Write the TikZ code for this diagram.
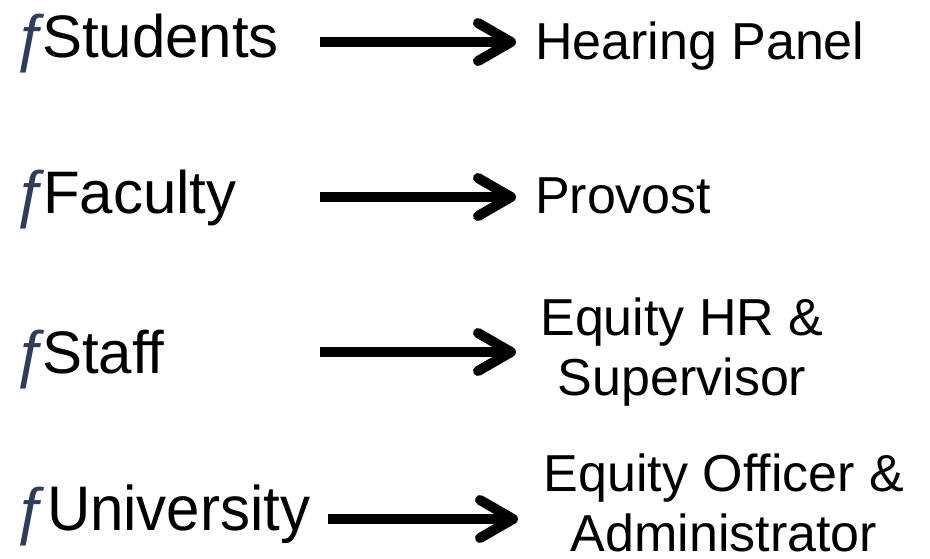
\documentclass[tikz,border=0pt]{standalone}
\usepackage{fontspec}
\setmainfont{Liberation Sans}
\definecolor{fcol}{RGB}{46,62,90}
\begin{document}
\begin{tikzpicture}[x=1pt,y=-1pt,
  fmark/.style={anchor=base west,inner sep=0pt,outer sep=0pt,text=fcol,font=\fontsize{64}{64}\selectfont},
  leftlab/.style={anchor=base west,inner sep=0pt,outer sep=0pt,font=\fontsize{60}{60}\selectfont},
  rightlab/.style={anchor=base west,inner sep=0pt,outer sep=0pt,font=\fontsize{52}{60}\selectfont},
  rightlab2/.style={anchor=base,inner sep=0pt,outer sep=0pt,align=center,font=\fontsize{52}{60}\selectfont},
  shaft/.style={line width=10.5pt},
  head/.style={line width=10pt,line cap=round,line join=round}]
\useasboundingbox (0,0) rectangle (930,558);

% left labels
\node[fmark] (f1) at (14,59) {ƒ};
\node[leftlab] (students) at (42,57) {Students};
\node[fmark] (f2) at (14,215) {ƒ};
\node[leftlab] (faculty) at (43,213) {Faculty};
\node[fmark] (f3) at (14,375) {ƒ};
\node[leftlab] (staff) at (42,373) {Staff};
\node[fmark] (f4) at (14,532) {ƒ};
\node[leftlab,yscale=1.05] (university) at (47,530) {University};

% right labels
\node[rightlab] (hearing) at (535,59) {Hearing Panel};
\node[rightlab] (provost) at (535,213) {Provost};
\node[rightlab2] (equityhr) at (682,395) {Equity HR \&\\Supervisor};
\node[rightlab2] (equityoff) at (724,551) {Equity Officer \&\\Administrator};

% arrows
\coordinate (s1) at (320,42);  \coordinate (t1) at (511,42);
\coordinate (s2) at (320,197); \coordinate (t2) at (511,197);
\coordinate (s3) at (320,352); \coordinate (t3) at (511,352);
\coordinate (s4) at (328,519); \coordinate (t4) at (513,519);
\foreach \i in {1,2,3,4}{
  \draw[shaft] (s\i) -- ([xshift=-6pt]t\i);
  \draw[head] (t\i) ++(-33,-19) -- (t\i) -- ++(-33,19);
}
\end{tikzpicture}
\end{document}
